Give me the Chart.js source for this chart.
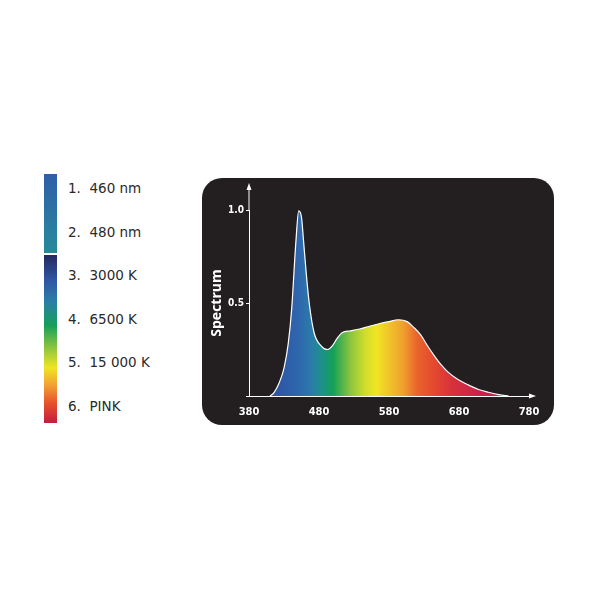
<!DOCTYPE html>
<html>
<head>
<meta charset="utf-8">
<script src="https://cdn.jsdelivr.net/npm/chart.js@4"></script>
<style>
  body { margin:0; background:#fff; width:600px; height:600px; position:relative; overflow:hidden; }
  #panel { position:absolute; left:202px; top:178px; width:352px; height:247px; background:#231f20; border-radius:20px; }
  #canvas { position:absolute; left:0; top:0; }
  .bar { position:absolute; left:44px; width:13px; }
  #bar1 { top:174px; height:79px; background:linear-gradient(#2f5ea8, #2a7ea0 70%, #268a96); }
  #bar2 { top:255px; height:168px; background:linear-gradient(#232a5e, #2f56a4 15%, #2a7fa6 28%, #15a05a 42%, #8bc43f 55%, #eee524 67%, #f2a531 77%, #e8522e 88%, #c41c3e); }
  .lbl { position:absolute; left:68px; font-family:'DejaVu Sans', sans-serif; font-size:13.5px; color:#2a2a2a; white-space:pre; }
</style>
</head>
<body>
<div class="bar" id="bar1"></div>
<div class="bar" id="bar2"></div>
<div id="legend"></div>
<div id="panel"><canvas id="canvas" width="352" height="247"></canvas></div>
<script>
var legendItems = ["1.  460 nm", "2.  480 nm", "3.  3000 K", "4.  6500 K", "5.  15 000 K", "6.  PINK"];
var wavelength = [410, 416, 423, 430, 436, 441, 447, 451, 455, 458, 462, 466, 473, 483, 492, 499, 506, 513, 525, 538, 552, 567, 580, 593, 606, 615, 625, 635, 644, 654, 664, 678, 693, 708, 722, 737, 751];
var spectrum   = [0, 0.02, 0.07, 0.15, 0.28, 0.47, 0.83, 0.995, 0.96, 0.83, 0.65, 0.5, 0.34, 0.27, 0.25, 0.27, 0.31, 0.34, 0.35, 0.36, 0.375, 0.39, 0.40, 0.41, 0.40, 0.37, 0.33, 0.27, 0.22, 0.17, 0.13, 0.09, 0.06, 0.035, 0.02, 0.007, 0];
var xTicks = [380, 480, 580, 680, 780];
var yTicks = [0.5, 1.0];

var top0 = 190;
legendItems.forEach(function(t, i){
  var $l = document.createElement('div');
  $l.className = 'lbl';
  $l.style.top = (top0 + i*43.6 - 10) + 'px';
  $l.textContent = t;
  document.getElementById('legend').appendChild($l);
});

var stops = [[405,'#2c4e9e'],[450,'#2f66ae'],[470,'#2a7ca8'],[482,'#1e8f8e'],[500,'#14a058'],[525,'#8cc43f'],[545,'#cfdc2c'],[562,'#f0e524'],[580,'#f0c42a'],[600,'#f0a02e'],[620,'#e9642c'],[645,'#e3482f'],[670,'#d8303c'],[710,'#c8224a'],[760,'#b81d4c']];

function spectrumFill(ctx){
  var chart = ctx.chart;
  var area = chart.chartArea;
  if (!area) return 'transparent';
  var xs = chart.scales.x;
  var g = chart.ctx.createLinearGradient(xs.getPixelForValue(380), 0, xs.getPixelForValue(780), 0);
  stops.forEach(function(s){ g.addColorStop((s[0]-380)/400, s[1]); });
  return g;
}

var arrows = {
  id: 'arrows',
  afterDraw: function(chart){
    var c = chart.ctx, a = chart.chartArea;
    c.save();
    c.strokeStyle = '#fff'; c.fillStyle = '#fff'; c.lineWidth = 1;
    c.beginPath(); c.moveTo(a.left, a.top); c.lineTo(a.left, 10); c.stroke();
    c.beginPath(); c.moveTo(a.left, 5); c.lineTo(a.left-2.5, 12); c.lineTo(a.left+2.5, 12); c.closePath(); c.fill();
    c.beginPath(); c.moveTo(a.right, a.bottom); c.lineTo(a.right+2, a.bottom); c.stroke();
    c.beginPath(); c.moveTo(a.right+7, a.bottom); c.lineTo(a.right, a.bottom-2.5); c.lineTo(a.right, a.bottom+2.5); c.closePath(); c.fill();
    c.restore();
  }
};

var tickFont = { family: "'Liberation Sans Narrow', 'DejaVu Sans Condensed', sans-serif", size: 11, weight: 'bold' };

new Chart(document.getElementById('canvas'), {
  type: 'line',
  data: {
    datasets: [{
      data: wavelength.map(function(w, i){ return { x: w, y: spectrum[i] }; }),
      borderColor: '#ffffff',
      borderWidth: 1.2,
      backgroundColor: spectrumFill,
      fill: 'origin',
      pointRadius: 0,
      cubicInterpolationMode: 'monotone',
      clip: false
    }]
  },
  options: {
    responsive: false,
    animation: false,
    layout: { padding: { left: 7, right: 25, top: 32, bottom: 0 } },
    plugins: { legend: { display: false }, tooltip: { enabled: false } },
    scales: {
      x: {
        type: 'linear', min: 380, max: 780,
        afterBuildTicks: function(s){ s.ticks = xTicks.map(function(v){ return { value: v }; }); },
        afterFit: function(s){ s.height = 29; },
        grid: { display: false },
        border: { color: '#fff', width: 1 },
        ticks: { color: '#fff', font: tickFont, padding: 2, maxRotation: 0 }
      },
      y: {
        min: 0, max: 1.0,
        afterBuildTicks: function(s){ s.ticks = [{ value: 0 }].concat(yTicks.map(function(v){ return { value: v }; })); },
        afterFit: function(s){ s.width = 40; },
        grid: { drawOnChartArea: false, color: '#fff', tickLength: 3 },
        border: { color: '#fff', width: 1 },
        ticks: {
          color: '#fff', font: { family: tickFont.family, size: 10, weight: 'bold' }, padding: 2,
          callback: function(v){ return v === 0 ? '' : v.toFixed(1); }
        },
        title: { display: true, text: 'Spectrum', color: '#fff', font: { family: "'Open Sans', sans-serif", size: 14, weight: 'bold' }, padding: 0 }
      }
    }
  },
  plugins: [arrows]
});
</script>
</body>
</html>
